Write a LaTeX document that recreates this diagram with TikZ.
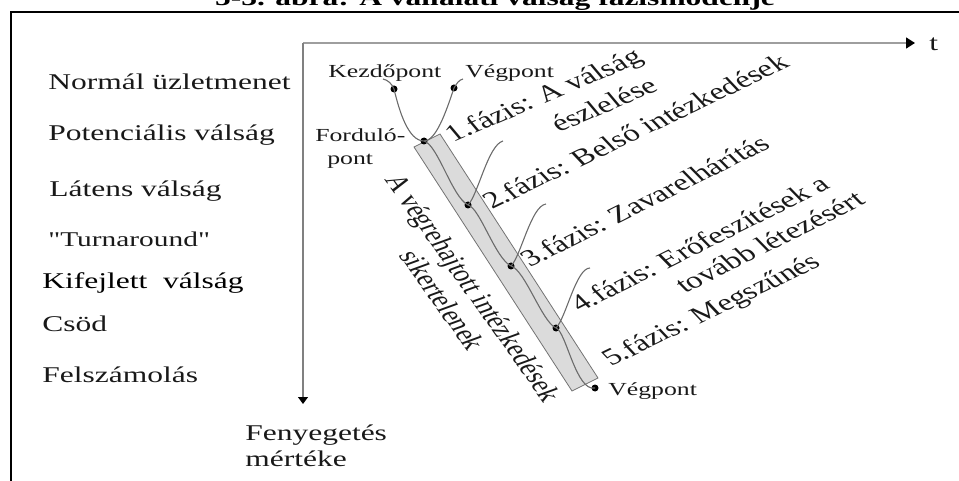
\documentclass[tikz,border=0pt]{standalone}
\usepackage{fontspec}
\setmainfont{Liberation Serif}
\newfontfamily\rawserif[Ligatures=TeXOff]{Liberation Serif}
\usetikzlibrary{arrows.meta}
\begin{document}
\begin{tikzpicture}[x=1pt,y=-1pt,
  lbl/.style={font=\fontsize{22.5}{27}\selectfont, inner sep=0pt, xscale=1.4, text=black!90},
  sml/.style={font=\fontsize{18.4}{22}\selectfont, inner sep=0pt, xscale=1.4, text=black!90},
  phase/.style={lbl, font=\fontsize{23.5}{28}\selectfont, anchor=base west},
  dot/.style={circle, fill=black, inner sep=0pt, minimum size=7pt},
  crv/.style={draw=black!58, line width=1.1pt},
  axis/.style={draw=black!38, line width=1.6pt}]
\useasboundingbox (0,0) rectangle (959,481);
\clip (0,0) rectangle (959,481);

% caption (only its lower edge lies inside the frame area)
\node[lbl, font=\fontsize{22.5}{27}\selectfont\bfseries, anchor=base, text=black] (title) at (495,5.5)
  {5-3. ábra: A vállalati válság fázismodellje};

% frame
\draw[line width=2pt] (960,12) -- (11,12) -- (11,482);

% axes
\coordinate (O) at (303,43);
\coordinate (T) at (915,43);
\coordinate (M) at (303,404);
\draw[axis, -{Triangle[length=9pt,width=11pt,color=black]}] (O) -- (T);
\draw[draw=black!50, line width=1.1pt, -{Triangle[length=7pt,width=10pt,color=black]}] (O) -- (M);
\node[lbl, anchor=west] (t) at (929,44) {t};

% levels of threat
\node[lbl, anchor=base west] (l1) at (48,90) {Normál üzletmenet};
\node[lbl, anchor=base west] (l2) at (48,141) {Potenciális válság};
\node[lbl, anchor=base west] (l3) at (49,197) {Látens válság};
\node[lbl, font=\fontsize{21}{25}\selectfont\rawserif, anchor=base west] (l4) at (48,247) {"Turnaround"};
\node[lbl, anchor=base west, text=black] (l5) at (42,289) {Kifejlett\ \ válság};
\node[lbl, anchor=base west] (l6) at (42,331) {Csöd};
\node[lbl, anchor=base west] (l7) at (42,382) {Felszámolás};
\node[lbl, anchor=base west] (y1) at (245,440) {Fenyegetés};
\node[lbl, anchor=base west] (y2) at (245,466) {mértéke};

% band of failed measures
\fill[black!14, draw=black!55, line width=0.8pt] (414,147) -- (440,134) -- (598,378) -- (572,391) -- cycle;

% points
\node[dot] (K) at (394,89) {};
\node[dot] (V) at (454,88) {};
\node[dot] (F) at (424,141) {};
\node[dot] (D2) at (468,205) {};
\node[dot] (D3) at (511,266) {};
\node[dot] (D4) at (556,328) {};
\node[dot] (E) at (595,388) {};
\coordinate (Kt) at (383,79);
\coordinate (Vt) at (463,79);
\coordinate (B2) at (503,141);
\coordinate (B3) at (546,204);
\coordinate (B4) at (590,268);

% crisis curve
\draw[crv] (Kt) .. controls (388,80) and (392,84) .. (K.center)
  .. controls (399,110) and (408,141) .. (F.center)
  .. controls (436,141) and (446,112) .. (V.center)
  .. controls (457,83) and (459,80) .. (Vt);
\draw[crv] (F.center) .. controls (438,145) and (452,197) .. (D2.center)
  .. controls (480,208) and (495,258) .. (D3.center)
  .. controls (525,270) and (542,322) .. (D4.center)
  .. controls (566,331) and (576,392) .. (E.center);
\draw[crv] (D2.center) .. controls (478,195) and (488,145) .. (B2);
\draw[crv] (D3.center) .. controls (521,256) and (531,206) .. (B3);
\draw[crv] (D4.center) .. controls (566,318) and (576,268) .. (B4);

% point labels
\node[sml, anchor=base west] (kp) at (328,78) {Kezdőpont};
\node[sml, anchor=base west] (vp1) at (465,78) {Végpont};
\node[sml, anchor=base west] (fp1) at (315,142) {Forduló-};
\node[sml, anchor=base west] (fp2) at (327,165) {pont};
\node[sml, anchor=base west] (vp2) at (608,395) {Végpont};

% phases
\node[phase, rotate=31] (p1a) at (453,143) {1.fázis: A válság};
\node[phase, rotate=31] (p1b) at (559,133) {észlelése};
\node[phase, rotate=34] (p2) at (492,210) {2.fázis: Belső intézkedések};
\node[phase, rotate=35] (p3) at (530,268) {3.fázis: Zavarelhárítás};
\node[phase, rotate=35] (p4a) at (580,313) {4.fázis: Erőfeszítések a};
\node[phase, rotate=35] (p4b) at (685,294) {tovább létezésért};
\node[phase, rotate=34] (p5) at (611,367) {5.fázis: Megszűnés};

% failed measures
\node[lbl, rotate=-63] (s1) at (471,289) {A végrehajtott intézkedések};
\node[lbl, rotate=-63] (s2) at (443,300) {sikertelenek};
\end{tikzpicture}
\end{document}
